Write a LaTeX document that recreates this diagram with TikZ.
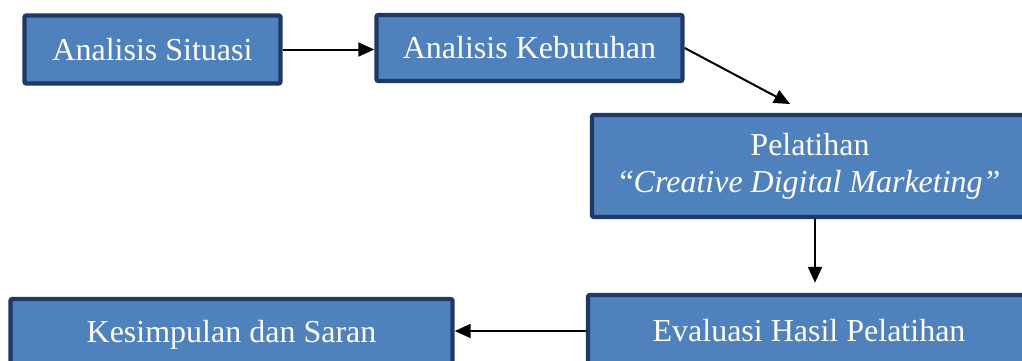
\documentclass[tikz,border=0pt]{standalone}
\usepackage{fontspec}
\setmainfont{Liberation Serif}
\usetikzlibrary{arrows.meta}
\usetikzlibrary{positioning}

\definecolor{boxfill}{HTML}{4F81BD}
\definecolor{boxborder}{HTML}{1F3864}

\begin{document}
\begin{tikzpicture}
[box/.style={rectangle,draw=boxborder,fill=boxfill,line width=2.2pt,rounded corners=1pt,
  text=white,font=\fontsize{16}{18.5}\selectfont,align=center,inner sep=0pt},
 arrow/.style={line width=1pt,-{Triangle[length=8pt,width=7pt]}},
 x=0.5pt,y=-0.5pt]

%\useasboundingbox keeps the page at the reference size
\useasboundingbox (0,0) rectangle (1022,360);
\node[box,minimum width=128pt,minimum height=34pt] (Situasi) at (152.5,49.5) {Analisis Situasi};
\node[box,minimum width=153pt,minimum height=33pt] (Kebutuhan) at (529.5,48) {Analisis Kebutuhan};
\node[box,minimum width=218pt,minimum height=51pt] (Pelatihan) at (810,166) {Pelatihan\\“\textit{Creative Digital Marketing”}};
\node[box,minimum width=221pt,minimum height=36pt] (Evaluasi) at (809,331) {Evaluasi Hasil Pelatihan};
\node[box,minimum width=221pt,minimum height=36pt] (Kesimpulan) at (231.5,335) {Kesimpulan dan Saran};
\coordinate (PelatihanIn) at (790,104);

\path[arrow] (Situasi.east) edge (Situasi.east -| Kebutuhan.west)
	(Kebutuhan.east) edge (PelatihanIn)
	([xshift=2.5pt]Pelatihan.south) edge[shorten >=5pt] ([xshift=2.5pt]Pelatihan.south |- Evaluasi.north)
	(Evaluasi.west) edge (Evaluasi.west -| Kesimpulan.east);
\end{tikzpicture}
\end{document}
